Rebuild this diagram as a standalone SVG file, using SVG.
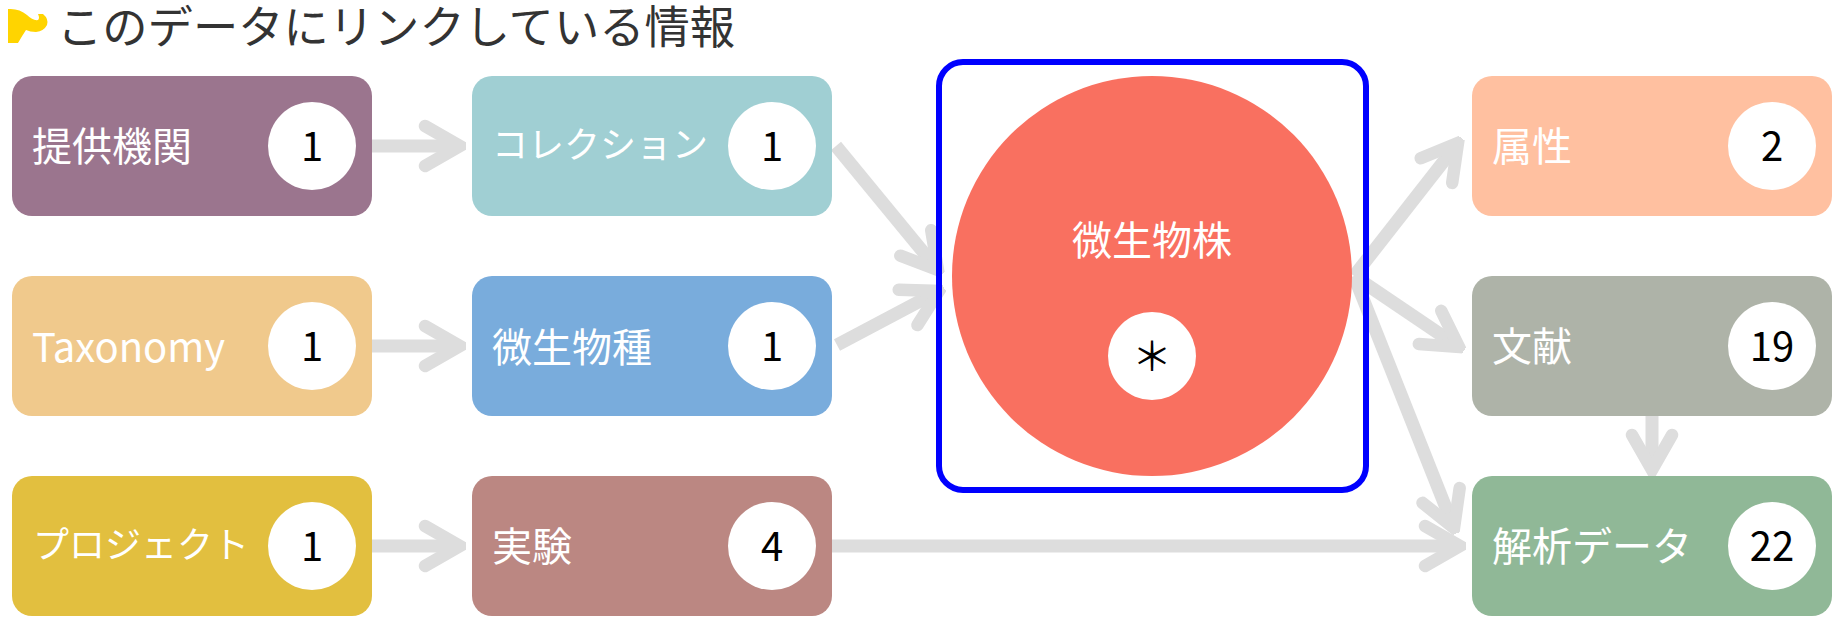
<svg xmlns="http://www.w3.org/2000/svg" width="1842" height="622" viewBox="0 0 1842 622">
<style>
text{font-family:"Noto Sans CJK JP","Noto Sans",sans-serif}
.l{fill:#fff;font-size:40px}
.s{fill:#fff;font-size:36px}
.n{fill:#000;font-size:40px;text-anchor:middle}
.b{fill:#fff}
.a{fill:none;stroke:#ddd;stroke-width:13;marker-end:url(#h)}
</style>
<defs><marker id="h" markerUnits="userSpaceOnUse" markerWidth="48" markerHeight="54" refX="42" refY="27" orient="auto"><path d="M7 7L42 27L7 47" fill="none" stroke="#ddd" stroke-width="12.5" stroke-linecap="round" stroke-miterlimit="10"/></marker></defs>
<rect width="1842" height="622" fill="#fff"/>
<g id="title"><path d="M8 9Q19 8 27 15Q33 21 38 20Q40 18 38 14L43 14Q49 19 47 25Q44 31 36 32Q30 32 26 30Q22 36 18 43L8 43Z" fill="#ffd400"/><text x="57" y="44" font-size="45.3" fill="#333">このデータにリンクしている情報</text></g>
<g id="connectors">
<path class="a" d="M372 146H460"/><path class="a" d="M372 346H460"/><path class="a" d="M372 546H460"/>
<path class="a" d="M836 146L938 270"/><path class="a" d="M837 345L939 291"/>
<path class="a" d="M832 546H1460"/>
<path class="a" d="M1354 276L1458 143"/><path class="a" d="M1354 276L1459 347"/><path class="a" d="M1354 276L1454 528"/>
<path class="a" d="M1652 416V470"/>
</g>
<g id="n1"><rect x="12" y="76" width="360" height="140" rx="20" fill="#9b758e"/><text class="l" x="32" y="161">提供機関</text><circle class="b" cx="312" cy="146" r="44"/><text class="n" x="312" y="161">1</text></g>
<g id="n2"><rect x="472" y="76" width="360" height="140" rx="20" fill="#a0cfd3"/><text class="s" x="492" y="158">コレクション</text><circle class="b" cx="772" cy="146" r="44"/><text class="n" x="772" y="161">1</text></g>
<g id="n3"><rect x="12" y="276" width="360" height="140" rx="20" fill="#f0c98c"/><text class="l" x="32" y="362">Taxonomy</text><circle class="b" cx="312" cy="346" r="44"/><text class="n" x="312" y="361">1</text></g>
<g id="n4"><rect x="472" y="276" width="360" height="140" rx="20" fill="#79acdc"/><text class="l" x="492" y="362">微生物種</text><circle class="b" cx="772" cy="346" r="44"/><text class="n" x="772" y="361">1</text></g>
<g id="n5"><rect x="12" y="476" width="360" height="140" rx="20" fill="#e2bf3f"/><text class="s" x="33" y="558">プロジェクト</text><circle class="b" cx="312" cy="546" r="44"/><text class="n" x="312" y="561">1</text></g>
<g id="n6"><rect x="472" y="476" width="360" height="140" rx="20" fill="#bb8782"/><text class="l" x="492" y="561">実験</text><circle class="b" cx="772" cy="546" r="44"/><text class="n" x="772" y="561">4</text></g>
<g id="center"><rect x="939" y="62" width="427" height="428" rx="24" fill="none" stroke="#00f" stroke-width="6"/><circle cx="1152" cy="276" r="200" fill="#f97060"/><text class="l" x="1152" y="255" text-anchor="middle">微生物株</text><circle class="b" cx="1152" cy="356" r="44"/><text class="n" x="1152" y="371">＊</text></g>
<g id="n7"><rect x="1472" y="76" width="360" height="140" rx="20" fill="#ffc0a0"/><text class="l" x="1492" y="161">属性</text><circle class="b" cx="1772" cy="146" r="44"/><text class="n" x="1772" y="161">2</text></g>
<g id="n8"><rect x="1472" y="276" width="360" height="140" rx="20" fill="#aeb3a8"/><text class="l" x="1492" y="361">文献</text><circle class="b" cx="1772" cy="346" r="44"/><text class="n" x="1772" y="361">19</text></g>
<g id="n9"><rect x="1472" y="476" width="360" height="140" rx="20" fill="#90b897"/><text class="l" x="1492" y="561">解析データ</text><circle class="b" cx="1772" cy="546" r="44"/><text class="n" x="1772" y="561">22</text></g>
</svg>
